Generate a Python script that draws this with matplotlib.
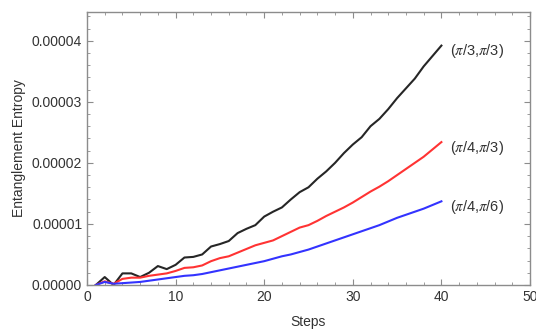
import numpy as np
import matplotlib
matplotlib.use('Agg')
import matplotlib.pyplot as plt
from matplotlib.ticker import MultipleLocator, FormatStrFormatter

plt.rcParams['font.family'] = ['Liberation Sans', 'DejaVu Sans']
plt.rcParams['mathtext.fontset'] = 'stix'

# Entanglement entropy per step for three coin angle pairs
steps = np.arange(1, 41)
s_pi3_pi3 = np.array([0.00, 0.13, 0.00, 0.19, 0.19, 0.13, 0.20, 0.31, 0.26, 0.33,
                      0.45, 0.46, 0.50, 0.63, 0.67, 0.72, 0.85, 0.92, 0.98, 1.12,
                      1.20, 1.27, 1.40, 1.52, 1.60, 1.74, 1.86, 2.00, 2.16, 2.30,
                      2.42, 2.60, 2.72, 2.88, 3.06, 3.22, 3.38, 3.58, 3.75, 3.92]) * 1e-5
s_pi4_pi3 = np.array([0.00, 0.06, 0.02, 0.10, 0.12, 0.12, 0.15, 0.17, 0.19, 0.23,
                      0.28, 0.29, 0.32, 0.39, 0.44, 0.47, 0.53, 0.59, 0.65, 0.69,
                      0.73, 0.80, 0.87, 0.94, 0.98, 1.05, 1.13, 1.20, 1.27, 1.35,
                      1.44, 1.53, 1.61, 1.70, 1.80, 1.90, 2.00, 2.10, 2.22, 2.34]) * 1e-5
s_pi4_pi6 = np.array([0.00, 0.05, 0.02, 0.03, 0.04, 0.05, 0.07, 0.09, 0.11, 0.13,
                      0.15, 0.16, 0.18, 0.21, 0.24, 0.27, 0.30, 0.33, 0.36, 0.39,
                      0.43, 0.47, 0.50, 0.54, 0.58, 0.63, 0.68, 0.73, 0.78, 0.83,
                      0.88, 0.93, 0.98, 1.04, 1.10, 1.15, 1.20, 1.25, 1.31, 1.37]) * 1e-5

labels = [r'($\pi$/3,$\pi$/3)', r'($\pi$/4,$\pi$/3)', r'($\pi$/4,$\pi$/6)']
colors = ['#262626', '#ff3333', '#3333ff']

fig = plt.figure(figsize=(5.36, 3.31), dpi=100)
ax = fig.add_axes([0.1623, 0.139, 0.8265, 0.8247])

for ys, lab, c in zip([s_pi3_pi3, s_pi4_pi3, s_pi4_pi6], labels, colors):
    ax.plot(steps, ys, color=c, lw=1.5)
    ax.annotate(lab, xy=(steps[-1], ys[-1]), xytext=(6, -4), textcoords='offset points',
                fontsize=10.5, color='#333333', va='center', ha='left')

ax.set_xlim(0, 50)
ax.set_ylim(0, 4.47e-5)
ax.xaxis.set_major_locator(MultipleLocator(10))
ax.xaxis.set_minor_locator(MultipleLocator(2))
ax.yaxis.set_major_locator(MultipleLocator(1e-5))
ax.yaxis.set_minor_locator(MultipleLocator(2e-6))
ax.yaxis.set_major_formatter(FormatStrFormatter('%.5f'))

for sp in ax.spines.values():
    sp.set_color('#8c8c8c')
    sp.set_linewidth(1.0)
ax.tick_params(which='both', direction='in', top=True, right=True,
               color='#8c8c8c', labelsize=10, labelcolor='#333333')
ax.tick_params(which='major', length=4)
ax.tick_params(which='minor', length=2.5)

ax.set_xlabel('Steps', fontsize=10, color='#333333', labelpad=8)
ax.set_ylabel('Entanglement Entropy', fontsize=10, color='#333333', labelpad=4)

fig.savefig('out.png', dpi=100)
